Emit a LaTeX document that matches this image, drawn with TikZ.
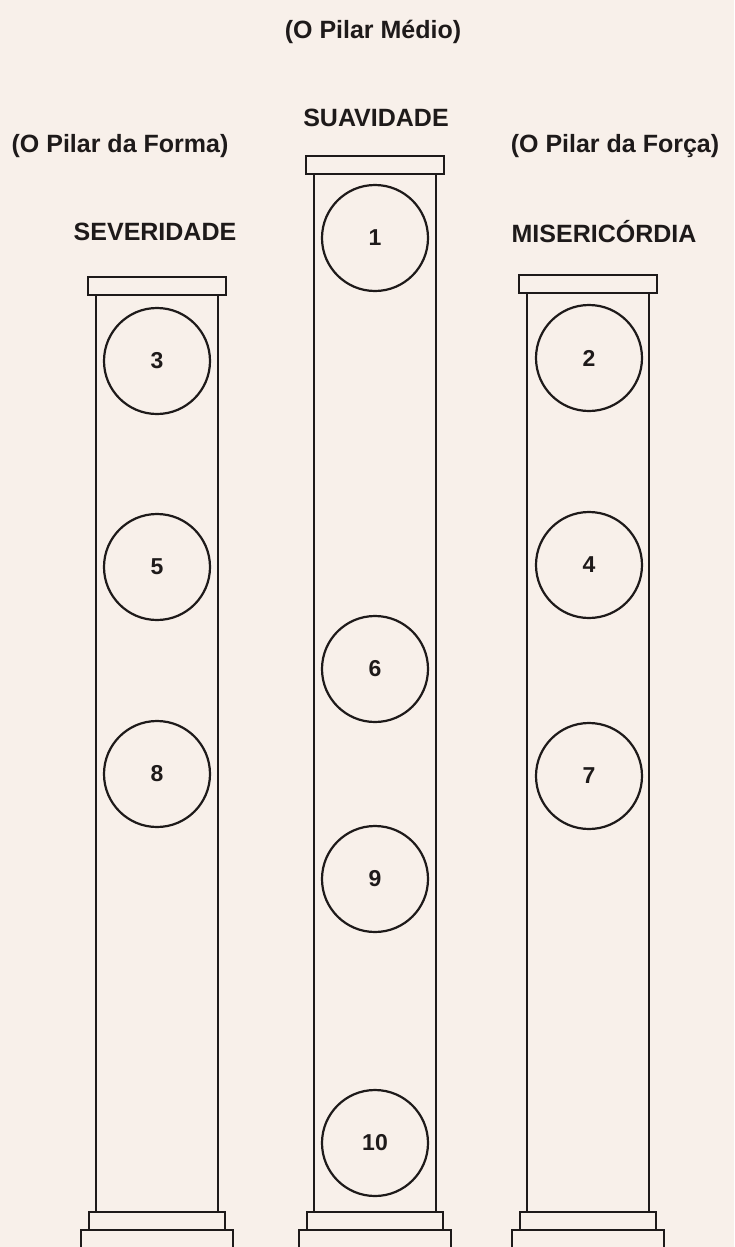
\documentclass[tikz,border=0pt]{standalone}
\usepackage{fontspec}
\setmainfont{Liberation Sans}
\definecolor{paper}{RGB}{248,240,234}
\definecolor{ink}{RGB}{30,26,26}
\begin{document}
\begin{tikzpicture}[x=1pt,y=-1pt,
  sefira/.style={circle,draw=ink,line width=2.2pt,minimum size=106pt,inner sep=0pt,text=ink,font=\bfseries\fontsize{23}{25}\selectfont},
  lbl/.style={inner sep=0pt,text=ink,font=\bfseries\fontsize{25}{28}\selectfont},
  capline/.style={draw=ink,line width=2.2pt},
  shaftline/.style={draw=ink,line width=1.8pt},
  baseline/.style={draw=ink,line width=2pt}]
\fill[paper] (0,0) rectangle (734,1247);
\useasboundingbox (0,0) rectangle (734,1247);
\clip (0,0) rectangle (734,1247);
% labels
\node[lbl] (medio) at (373,32) {(O Pilar Médio)};
\node[lbl] (suav) at (376,118) {SUAVIDADE};
\node[lbl] (forma) at (120,146) {(O Pilar da Forma)};
\node[lbl] (forca) at (615,146) {(O Pilar da Força)};
\node[lbl] (sev) at (155,232) {SEVERIDADE};
\node[lbl] (mis) at (604,232) {MISERICÓRDIA};
% pillars
\foreach \cx/\ct in {157/277, 375/156, 588/275}{
  \draw[capline] (\cx-69,\ct) rectangle (\cx+69,\ct+18);
  \draw[shaftline] (\cx-61,\ct+18) -- (\cx-61,1212) (\cx+61,\ct+18) -- (\cx+61,1212);
  \draw[baseline] (\cx-68,1212) rectangle (\cx+68,1230);
  \draw[baseline] (\cx-76,1260) -- (\cx-76,1230) -- (\cx+76,1230) -- (\cx+76,1260);
}
% sefirot
\node[sefira] (s1) at (375,238) {1};
\node[sefira] (s2) at (589,358) {2};
\node[sefira] (s3) at (157,361) {3};
\node[sefira] (s4) at (589,565) {4};
\node[sefira] (s5) at (157,567) {5};
\node[sefira] (s6) at (375,669) {6};
\node[sefira] (s7) at (589,776) {7};
\node[sefira] (s8) at (157,774) {8};
\node[sefira] (s9) at (375,879) {9};
\node[sefira] (s10) at (375,1143) {10};
\end{tikzpicture}
\end{document}
